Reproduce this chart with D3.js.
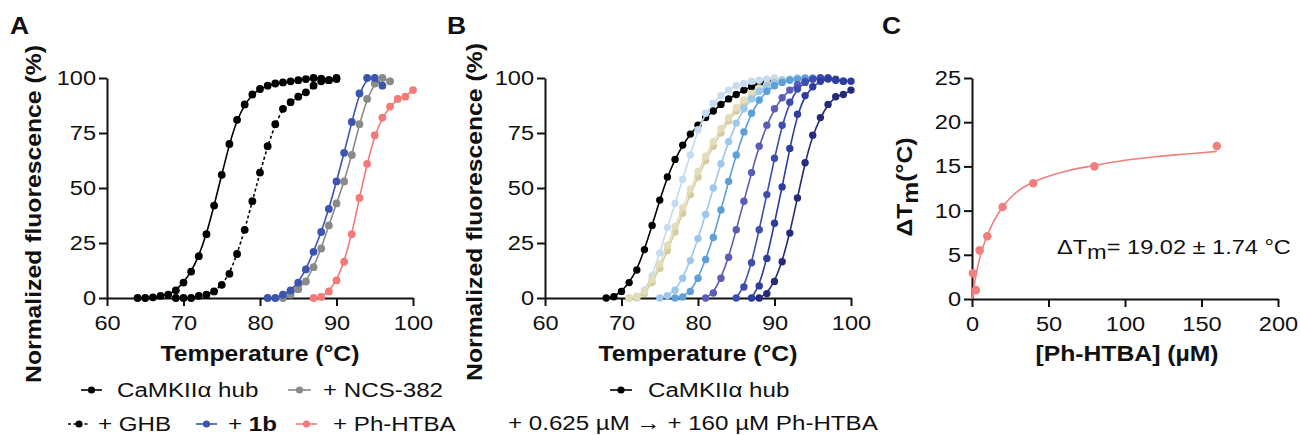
<!DOCTYPE html>
<html lang="en">
<head>
<meta charset="UTF-8">
<title>Thermal shift assay</title>
<script src="https://d3js.org/d3.v7.min.js"></script>
<style>
  body { margin: 0; background: #fff; }
  svg text { font-family: "Liberation Sans", Arial, Helvetica, sans-serif; fill: #111; }
  .axis path, .axis line { stroke: #111; stroke-width: 2; }
  .axis text { font-size: 20.5px; }
  .title { font-size: 21.5px; font-weight: bold; }
  .leg { font-size: 21px; }
  .panel { font-size: 23px; font-weight: bold; }
</style>
</head>
<body>
<svg id="chart" width="1300" height="436"></svg>
<script>
// ---- data ----
// panel A: normalized fluorescence (%) per 1 °C step, starting temperature given separately
const aHubStart = 64;
const aHub = [0, 0, 0.3, 1, 1.5, 3.5, 7, 12, 19, 29, 42, 56, 70, 81, 88, 92.5, 95, 96.5, 97.5, 98, 98.5, 99, 99.5, 100, 99.7, 99, 100];
const aGhbStart = 69;
const aGhb = [0, 0, 0, 1, 1.5, 3, 6, 11, 20, 31, 44, 57, 69, 79, 86, 89, 91.5, 93.5, 96.5, 98.5, 99, 99.5];
const a1bStart = 81;
const a1b = [0, 0, 1.5, 3.5, 7, 13, 21, 30, 40.5, 53, 66, 80, 93, 100, 100, 96.5];
const aNcsStart = 83;
const aNcs = [0, 1.5, 4, 7.5, 14, 22.5, 33, 43, 53, 65, 79, 90.5, 97.5, 100, 98.5];
const aPhStart = 87;
const aPh = [0, 0.5, 3, 8, 16.5, 29, 45.5, 61, 74, 82, 87, 90.5, 91.5, 94.5];

// panel B: hub alone and 0.625 -> 160 uM Ph-HTBA
const bStarts = [68, 72, 71, 71, 75, 77, 81, 85, 87, 88];
const bHub = [0, 0.6, 3, 7, 12.7, 22, 33, 44.5, 55, 63, 69.5, 74.5, 78.5, 82, 85, 88, 90.5, 92.5, 94.5, 96, 97.5, 98.5, 99.5];
const b1 = [0, 3.5, 10, 20.5, 32, 43, 54, 65, 76.5, 84, 88.5, 92, 94.5, 96.5, 97.5, 98.5, 99, 99.5, 100];
const b2 = [0, 0.5, 2, 7, 13.5, 21.5, 30, 38.5, 47, 55, 62.5, 69, 75, 80.5, 85, 89, 92, 94.5, 96.5, 98, 99, 99.5];
const b3 = [0, 0.8, 3, 8.5, 15.5, 24, 32.5, 41, 49.5, 57.5, 64.5, 71, 77, 82, 86.5, 90, 93, 95.5, 97, 98.5, 99.5];
const b4 = [0, 1, 3.5, 9, 17, 27, 38, 50, 61, 71, 79.5, 86, 90.5, 94, 96.5, 98, 99, 99.5, 100];
const b5 = [0, 0.5, 3, 9, 17.5, 27.5, 40, 53, 65, 75.5, 84, 90, 94, 96.5, 98, 99, 99.5, 100, 100, 100];
const b6 = [0, 2.3, 9, 18.5, 31, 44, 57, 69, 78.5, 86, 91, 94.5, 97, 98.5, 99.5, 100, 100];
const b7 = [0, 5, 16, 31, 47, 63.5, 78.5, 89, 95, 98, 99.5, 100, 100, 99.5, 98.5];
const b8 = [0, 5.5, 18, 34, 50.5, 68, 83.5, 92, 96, 98.5, 99.5, 99, 98.5, 98.5];
const b9 = [0, 2, 7.5, 16.5, 29.5, 45.5, 61.5, 74, 82, 88, 91.5, 92.5, 94.5];
const bColors = ['#000000', '#c4dbf0', '#d6cb9c', '#e4ddbc', '#9dc8ec', '#5d9fdb', '#5a5cb6', '#3b4daf', '#2d3c9d', '#252a7a'];

// panel C: delta Tm vs concentration
const cConc = [0.625, 2.5, 5, 10, 20, 40, 80, 160];
const cDTm = [2.9, 1.0, 5.5, 7.1, 10.4, 13.1, 15.0, 17.3];
const fitConc = [0, 2.5, 5, 10, 20, 30, 40, 60, 80, 100, 120, 140, 160];
const fitDTm = [0, 2.6, 4.6, 7.2, 10.4, 12.2, 13.2, 14.4, 15.1, 15.7, 16.1, 16.4, 16.7];

const tempTicks = [60, 70, 80, 90, 100];
const fluoTicks = [0, 25, 50, 75, 100];
const concTicks = [0, 50, 100, 150, 200];
const dtmTicks = [0, 5, 10, 15, 20, 25];

// ---- drawing ----
const SX = 1.15; // text in the figure is a bit wider than Arial
const svg = d3.select('#chart');

function stretch(sel) {
  sel.each(function () {
    const t = d3.select(this);
    const x = +t.attr('x') || 0;
    t.attr('x', x / SX);
    t.attr('transform', (t.attr('transform') || '') + ` scale(${SX},1)`);
  });
}

function toPoints(start, vals) {
  return vals.map((v, i) => [start + i, v]);
}

function drawAxes(x, y, xTicks, yTicks) {
  const gx = svg.append('g').attr('class', 'axis')
    .attr('transform', `translate(0,${y.range()[0]})`)
    .call(d3.axisBottom(x).tickValues(xTicks).tickSize(8).tickSizeOuter(0).tickPadding(9));
  const gy = svg.append('g').attr('class', 'axis')
    .attr('transform', `translate(${x.range()[0]},0)`)
    .call(d3.axisLeft(y).tickValues(yTicks).tickSize(8).tickSizeOuter(0).tickPadding(3));
  stretch(gx.selectAll('text'));
  stretch(gy.selectAll('text'));
}

function drawSeries(x, y, pts, color, r, dash) {
  const line = d3.line().x(d => x(d[0])).y(d => y(d[1])).curve(d3.curveBasis);
  svg.append('path').datum(pts)
    .attr('d', line)
    .attr('fill', 'none')
    .attr('stroke', color)
    .attr('stroke-width', 1.6)
    .attr('stroke-dasharray', dash || null);
  svg.append('g').selectAll('circle').data(pts).join('circle')
    .attr('cx', d => x(d[0])).attr('cy', d => y(d[1]))
    .attr('r', r).attr('fill', color);
}

function yTitle(cx, cy, build) {
  const t = svg.append('g').attr('transform', `translate(${cx},${cy}) rotate(-90)`)
    .append('text').attr('class', 'title').attr('text-anchor', 'middle');
  build(t);
  stretch(t);
}

function xTitle(cx, by, label) {
  const t = svg.append('text').attr('class', 'title').attr('text-anchor', 'middle')
    .attr('x', cx).attr('y', by).text(label);
  stretch(t);
}

function legendMark(x1, x2, y, color, dash) {
  svg.append('line').attr('x1', x1).attr('x2', x2).attr('y1', y).attr('y2', y)
    .attr('stroke', color).attr('stroke-width', 1.6).attr('stroke-dasharray', dash || null);
  svg.append('circle').attr('cx', (x1 + x2) / 2).attr('cy', y).attr('r', 3.6).attr('fill', color);
}

function legendText(x, y, build) {
  const t = svg.append('text').attr('class', 'leg').attr('x', x).attr('y', y);
  build(t);
  stretch(t);
}

function panelLetter(x, y, s) {
  stretch(svg.append('text').attr('class', 'panel').attr('x', x).attr('y', y).text(s));
}

// panel A
const xA = d3.scaleLinear().domain([60, 100]).range([107, 413]);
const yA = d3.scaleLinear().domain([0, 100]).range([298, 78]);
drawAxes(xA, yA, tempTicks, fluoTicks);
drawSeries(xA, yA, toPoints(aGhbStart, aGhb), '#000', 3.9, '3,2.5');
drawSeries(xA, yA, toPoints(aHubStart, aHub), '#000', 3.9);
drawSeries(xA, yA, toPoints(aNcsStart, aNcs), '#8a8a8a', 3.9);
drawSeries(xA, yA, toPoints(a1bStart, a1b), '#3c55b0', 3.9);
drawSeries(xA, yA, toPoints(aPhStart, aPh), '#f47a7a', 3.9);
yTitle(41, 214, t => t.text('Normalized fluorescence (%)'));
xTitle(260, 361, 'Temperature (°C)');
panelLetter(10, 34, 'A');

legendMark(81, 102, 390, '#000');
legendText(117, 397, t => t.text('CaMKIIα hub'));
legendMark(288, 311, 390, '#8a8a8a');
legendText(323, 397, t => t.text('+ NCS-382'));
legendMark(68, 90, 424, '#000', '3,2.5');
legendText(98, 431, t => t.text('+ GHB'));
legendMark(196, 217, 424, '#3c55b0');
legendText(228, 431, t => { t.append('tspan').text('+ '); t.append('tspan').attr('font-weight', 'bold').text('1b'); });
legendMark(296, 317, 424, '#f47a7a');
legendText(333, 431, t => t.text('+ Ph-HTBA'));

// panel B
const xB = d3.scaleLinear().domain([60, 100]).range([545, 851]);
const yB = d3.scaleLinear().domain([0, 100]).range([298, 78]);
drawAxes(xB, yB, tempTicks, fluoTicks);
const bSeries = [bHub, b1, b2, b3, b4, b5, b6, b7, b8, b9];
bSeries.forEach((vals, i) => drawSeries(xB, yB, toPoints(bStarts[i], vals), bColors[i], 3.7));
yTitle(482, 212, t => t.text('Normalized fluorescence (%)'));
xTitle(698, 361, 'Temperature (°C)');
panelLetter(447, 34, 'B');

legendMark(610, 632, 390, '#000');
legendText(648, 397, t => t.text('CaMKIIα hub'));
legendText(508, 430, t => t.text('+ 0.625 µM → + 160 µM Ph-HTBA'));

// panel C
const xC = d3.scaleLinear().domain([0, 200]).range([972, 1278]);
const yC = d3.scaleLinear().domain([0, 25]).range([299, 78]);
drawAxes(xC, yC, concTicks, dtmTicks);
svg.append('path').datum(fitConc.map((c, i) => [c, fitDTm[i]]))
  .attr('d', d3.line().x(d => xC(d[0])).y(d => yC(d[1])).curve(d3.curveMonotoneX))
  .attr('fill', 'none').attr('stroke', '#f27f7f').attr('stroke-width', 1.6);
svg.append('g').selectAll('circle').data(cConc).join('circle')
  .attr('cx', d => xC(d)).attr('cy', (d, i) => yC(cDTm[i]))
  .attr('r', 4.3).attr('fill', '#f27f7f');
yTitle(912, 187, t => {
  t.append('tspan').text('ΔT');
  t.append('tspan').attr('dy', 6).text('m');
  t.append('tspan').attr('dy', -6).text('(°C)');
});
xTitle(1127, 361, '[Ph-HTBA] (µM)');
panelLetter(882, 34, 'C');

const ann = svg.append('text').attr('x', 1057).attr('y', 254).attr('font-size', 20.5);
ann.append('tspan').text('ΔT');
ann.append('tspan').attr('dy', 5).text('m');
ann.append('tspan').attr('dy', -5).text('= 19.02 ± 1.74 °C');
stretch(ann);
</script>
</body>
</html>
